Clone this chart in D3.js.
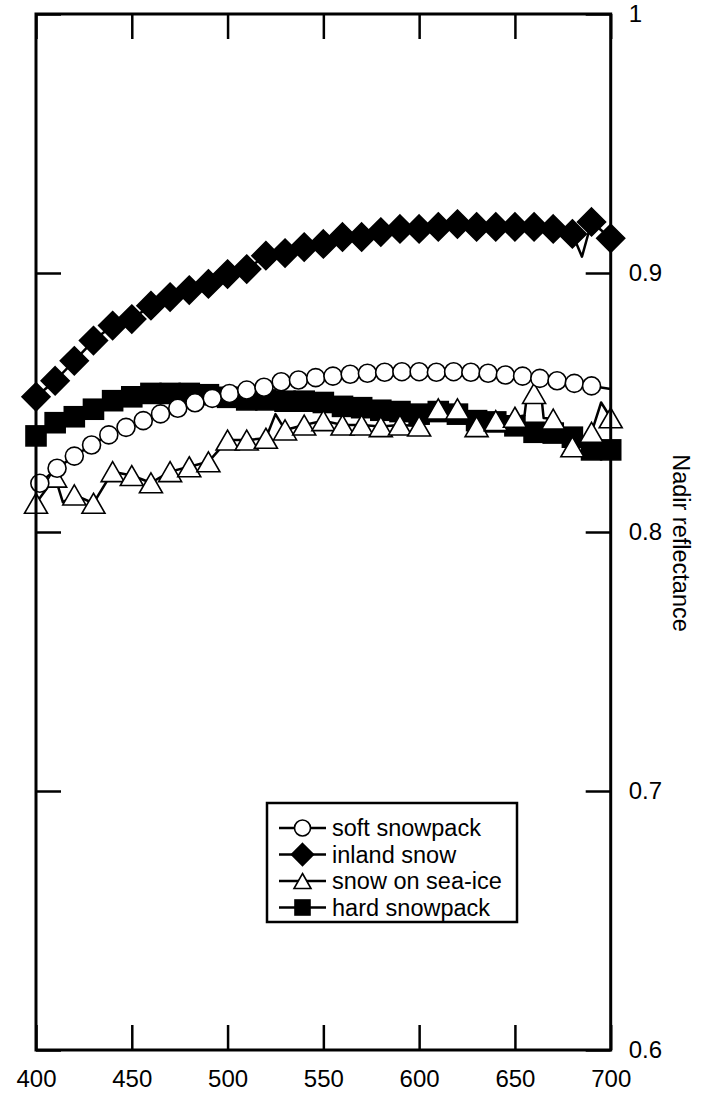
<!DOCTYPE html>
<html>
<head>
<meta charset="utf-8">
<script src="https://cdn.jsdelivr.net/npm/d3@7"></script>
<style>
  html, body { margin: 0; padding: 0; background: #fff; }
  svg { display: block; font-family: "Liberation Sans", Arial, sans-serif; }
</style>
</head>
<body>
<svg id="chart" width="702" height="1097"></svg>
<script>
// Wavelengths (nm) sampled every 10 nm for three of the spectra
const bandNm = [400, 410, 420, 430, 440, 450, 460, 470, 480, 490, 500, 510, 520, 530, 540, 550,
                560, 570, 580, 590, 600, 610, 620, 630, 640, 650, 660, 670, 680, 690, 700];

// Soft snowpack was sampled on its own wavelength grid
const softNm = [402, 411, 420, 429, 438, 447, 456, 465, 474, 483, 492, 501, 510, 519, 528, 537, 546,
                555, 564, 573, 582, 591, 600, 609, 618, 627, 636, 645, 654, 663, 672, 681, 690];
const softValues = [0.8188, 0.8246, 0.8293, 0.8336, 0.8375, 0.8404, 0.8430, 0.8456, 0.8478, 0.8499,
                    0.8516, 0.8535, 0.8548, 0.8559, 0.8580, 0.8587, 0.8596, 0.8602, 0.8609, 0.8613,
                    0.8617, 0.8619, 0.8619, 0.8617, 0.8619, 0.8617, 0.8613, 0.8606, 0.8602, 0.8593,
                    0.8584, 0.8574, 0.8564];
// Trace continues past the last marker
const softLineNm = [700];
const softLineValues = [0.8552];

const inlandValues = [0.8522, 0.8584, 0.8661, 0.8739, 0.8797, 0.8822, 0.8874, 0.8907, 0.8934, 0.8958,
                      0.8996, 0.9015, 0.9067, 0.9077, 0.9100, 0.9112, 0.9139, 0.9139, 0.9158, 0.9170,
                      0.9170, 0.9178, 0.9189, 0.9178, 0.9178, 0.9178, 0.9178, 0.9170, 0.9151, 0.9197,
                      0.9134];
const inlandLineNm = [685];
const inlandLineValues = [0.9063];

const seaIceValues = [0.8111, 0.8212, 0.8143, 0.8111, 0.8233, 0.8218, 0.8190, 0.8233, 0.8252, 0.8271,
                      0.8355, 0.8355, 0.8362, 0.8394, 0.8413, 0.8430, 0.8413, 0.8413, 0.8407, 0.8413,
                      0.8409, 0.8475, 0.8475, 0.8407, 0.8430, 0.8443, 0.8535, 0.8436, 0.8329, 0.8385,
                      0.8441];
const seaIceLineNm = [414, 525, 655, 656, 664, 665, 695];
const seaIceLineValues = [0.8115, 0.8455, 0.8450, 0.8510, 0.8510, 0.8440, 0.8500];

const hardValues = [0.8371, 0.8422, 0.8445, 0.8474, 0.8507, 0.8522, 0.8535, 0.8535, 0.8535, 0.8530,
                    0.8520, 0.8510, 0.8510, 0.8505, 0.8505, 0.8500, 0.8485, 0.8480, 0.8470, 0.8465,
                    0.8455, 0.8465, 0.8455, 0.8430, 0.8425, 0.8410, 0.8385, 0.8382, 0.8366, 0.8317,
                    0.8317];

const xTicks = [400, 450, 500, 550, 600, 650, 700];
const yTicks = [0.6, 0.7, 0.8, 0.9, 1];
const legendLabels = ["soft snowpack", "inland snow", "snow on sea-ice", "hard snowpack"];

const svg = d3.select("#chart");
const plotLeft = 36, plotRight = 610.7, plotTop = 14, plotBottom = 1050;
const x = d3.scaleLinear().domain([400, 700]).range([plotLeft, plotRight]);
const y = d3.scaleLinear().domain([0.6, 1]).range([plotBottom, plotTop]);

const zip = (nm, vals) => nm.map((w, i) => ({ w, v: vals[i] }));
const withExtras = (pts, nm, vals) => pts.concat(zip(nm, vals)).sort((a, b) => a.w - b.w);

// Marker shapes, centred on (0,0)
const shapes = {
  circle: (g, s) => g.append("circle").attr("r", s.r),
  diamond: (g, s) => g.append("path").attr("d", `M0,${-s.h}L${s.h},0L0,${s.h}L${-s.h},0Z`),
  triangle: (g, s) => g.append("path").attr("d", `M0,${-s.th / 2}L${s.tw / 2},${s.th / 2}L${-s.tw / 2},${s.th / 2}Z`),
  square: (g, s) => g.append("rect").attr("x", -s.q / 2).attr("y", -s.q / 2).attr("width", s.q).attr("height", s.q)
};
const plotSize = { r: 9, h: 14, tw: 23, th: 20, q: 20 };
const legendSize = { r: 8, h: 11, tw: 17, th: 15, q: 15 };

const series = [
  { name: legendLabels[3], shape: "square", fill: "#000",
    pts: zip(bandNm, hardValues), line: zip(bandNm, hardValues) },
  { name: legendLabels[2], shape: "triangle", fill: "#fff",
    pts: zip(bandNm, seaIceValues), line: withExtras(zip(bandNm, seaIceValues), seaIceLineNm, seaIceLineValues) },
  { name: legendLabels[0], shape: "circle", fill: "#fff",
    pts: zip(softNm, softValues), line: withExtras(zip(softNm, softValues), softLineNm, softLineValues) },
  { name: legendLabels[1], shape: "diamond", fill: "#000",
    pts: zip(bandNm, inlandValues), line: withExtras(zip(bandNm, inlandValues), inlandLineNm, inlandLineValues) }
];

const line = d3.line().x(d => x(d.w)).y(d => y(d.v));

series.forEach(s => {
  const g = svg.append("g");
  g.append("path").datum(s.line).attr("d", line)
    .attr("fill", "none").attr("stroke", "#000").attr("stroke-width", 2.5).attr("stroke-linejoin", "round");
  g.selectAll("g.mark").data(s.pts).join("g").attr("class", "mark")
    .attr("transform", d => `translate(${x(d.w)},${y(d.v)})`)
    .each(function () {
      shapes[s.shape](d3.select(this), plotSize)
        .attr("fill", s.fill).attr("stroke", "#000").attr("stroke-width", 1.6);
    });
});

// Axes: inward ticks on all four sides, labels on bottom and right
const tickLen = 25;
function styleAxis(g) {
  g.select(".domain").remove();
  g.selectAll(".tick line").attr("stroke", "#000").attr("stroke-width", 2.5);
  g.selectAll("text").attr("font-size", 24).attr("fill", "#000")
    .attr("font-family", "'Liberation Sans', Arial, sans-serif");
}
svg.append("g").attr("transform", `translate(0,${plotBottom})`)
  .call(d3.axisBottom(x).tickValues(xTicks).tickSize(-tickLen).tickPadding(20).tickFormat(d3.format("d")))
  .call(styleAxis);
svg.append("g").attr("transform", `translate(0,${plotTop})`)
  .call(d3.axisTop(x).tickValues(xTicks).tickSize(-tickLen).tickFormat(""))
  .call(styleAxis);
svg.append("g").attr("transform", `translate(${plotLeft},0)`)
  .call(d3.axisLeft(y).tickValues(yTicks).tickSize(-tickLen).tickFormat(""))
  .call(styleAxis);
svg.append("g").attr("transform", `translate(${plotRight},0)`)
  .call(d3.axisRight(y).tickValues(yTicks).tickSize(-tickLen).tickPadding(18).tickFormat(d3.format("")))
  .call(styleAxis);

// Plot frame
svg.append("rect").attr("x", plotLeft).attr("y", plotTop)
  .attr("width", plotRight - plotLeft).attr("height", plotBottom - plotTop)
  .attr("fill", "none").attr("stroke", "#000").attr("stroke-width", 3);

// Right-hand axis title
svg.append("text").attr("transform", `translate(681,543) rotate(90)`)
  .attr("text-anchor", "middle").attr("dy", "0.35em").attr("font-size", 23.5).text("Nadir reflectance");

// Legend
const legend = svg.append("g");
legend.append("rect").attr("x", 267).attr("y", 803).attr("width", 250).attr("height", 119)
  .attr("fill", "#fff").attr("stroke", "#000").attr("stroke-width", 2.5);
const legendOrder = [series[2], series[3], series[1], series[0]];
legendOrder.forEach((s, i) => {
  const cy = 828 + i * 26.5;
  const row = legend.append("g").attr("transform", `translate(0,${cy})`);
  row.append("line").attr("x1", 279).attr("x2", 326).attr("stroke", "#000").attr("stroke-width", 2.5);
  const m = row.append("g").attr("transform", "translate(302.5,0)");
  shapes[s.shape](m, legendSize).attr("fill", s.fill).attr("stroke", "#000").attr("stroke-width", 1.6);
  row.append("text").attr("x", 332).attr("dy", "0.35em").attr("font-size", 23.5).text(s.name);
});
</script>
</body>
</html>
